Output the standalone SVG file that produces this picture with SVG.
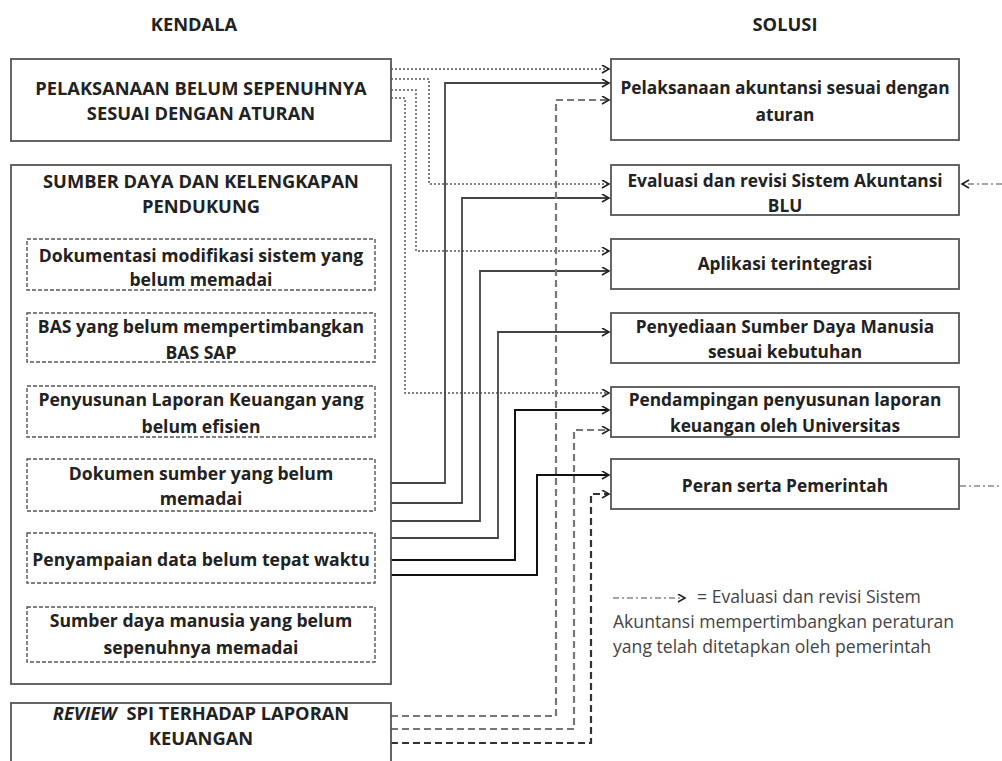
<svg xmlns="http://www.w3.org/2000/svg" width="1002" height="761" viewBox="0 0 1002 761">
<style>
.box{fill:#fff;stroke:#555;stroke-width:1.8}
.ibox{fill:none;stroke:#555;stroke-width:1.4;stroke-dasharray:4,2}
.t{font-family:"Open Sans","Liberation Sans",sans-serif;font-weight:bold;font-size:17.6px;fill:#222;text-anchor:middle}
.c{font-size:18.3px}
.r{font-size:17.3px}
.lg{font-family:"Open Sans","Liberation Sans",sans-serif;font-size:17.6px;fill:#444}
.dot{fill:none;stroke:#555;stroke-width:1.5;stroke-dasharray:2,2}
.sol{fill:none;stroke:#444;stroke-width:1.8}
.solk{fill:none;stroke:#111;stroke-width:2}
.dsh{fill:none;stroke:#777;stroke-width:2.2;stroke-dasharray:7,4}
.dshk{fill:none;stroke:#333;stroke-width:2.2;stroke-dasharray:7,4}
.dd{fill:none;stroke:#888;stroke-width:1.3;stroke-dasharray:6,3,2,3}
</style>
<defs>
<marker id="ar" markerUnits="userSpaceOnUse" markerWidth="10" markerHeight="10" refX="8" refY="4.5" orient="auto">
<path d="M1,0.5 L8,4.5 L1,8.5" fill="none" stroke="#222" stroke-width="1.6"/>
</marker>
</defs>
<text class="t c" x="194" y="31">KENDALA</text>
<text class="t c" x="785" y="31">SOLUSI</text>

<g id="connectors">
<path class="dot" d="M391,69 H609" marker-end="url(#ar)"/>
<path class="dot" d="M391,79 H429 V184 H609" marker-end="url(#ar)"/>
<path class="dot" d="M391,90 H416 V251 H609" marker-end="url(#ar)"/>
<path class="dot" d="M391,98 H405 V393 H609" marker-end="url(#ar)"/>
<path class="sol" d="M391,483 H445 V83 H609" marker-end="url(#ar)"/>
<path class="sol" d="M391,503 H462 V198 H609" marker-end="url(#ar)"/>
<path class="sol" d="M391,521 H480 V271 H609" marker-end="url(#ar)"/>
<path class="sol" d="M391,538 H498 V332 H609" marker-end="url(#ar)"/>
<path class="solk" d="M391,560 H515 V410 H609" marker-end="url(#ar)"/>
<path class="solk" d="M391,575 H537 V475 H609" marker-end="url(#ar)"/>
<path class="dsh" d="M391,716 H556 V100 H609" marker-end="url(#ar)"/>
<path class="dsh" d="M391,729 H574 V430 H609" marker-end="url(#ar)"/>
<path class="dshk" d="M391,743 H591 V494 H609" marker-end="url(#ar)"/>
<path class="dd" d="M1002,184 H962" marker-end="url(#ar)"/>
<path class="dd" d="M960,486 H1002"/>
</g>

<g id="k1">
<rect class="box" x="11" y="59" width="380" height="82"/>
<text class="t c" x="201" y="95">PELAKSANAAN BELUM SEPENUHNYA</text>
<text class="t c" x="201" y="120">SESUAI DENGAN ATURAN</text>
</g>
<g id="k2">
<rect class="box" x="11" y="165" width="380" height="519"/>
<text class="t c" x="201" y="188">SUMBER DAYA DAN KELENGKAPAN</text>
<text class="t c" x="201" y="213">PENDUKUNG</text>
</g>
<g id="k2a">
<rect class="ibox" x="27" y="239" width="348" height="51"/>
<text class="t" x="201" y="262">Dokumentasi modifikasi sistem yang</text>
<text class="t" x="201" y="286">belum memadai</text>
</g>
<g id="k2b">
<rect class="ibox" x="27" y="313" width="348" height="49"/>
<text class="t" x="201" y="333">BAS yang belum mempertimbangkan</text>
<text class="t" x="201" y="359">BAS SAP</text>
</g>
<g id="k2c">
<rect class="ibox" x="27" y="386" width="348" height="51"/>
<text class="t" x="201" y="406">Penyusunan Laporan Keuangan yang</text>
<text class="t" x="201" y="433">belum efisien</text>
</g>
<g id="k2d">
<rect class="ibox" x="27" y="459" width="348" height="52"/>
<text class="t" x="201" y="480">Dokumen sumber yang belum</text>
<text class="t" x="201" y="505">memadai</text>
</g>
<g id="k2e">
<rect class="ibox" x="27" y="533" width="348" height="50"/>
<text class="t" x="201" y="566">Penyampaian data belum tepat waktu</text>
</g>
<g id="k2f">
<rect class="ibox" x="27" y="607" width="348" height="55"/>
<text class="t" x="201" y="627">Sumber daya manusia yang belum</text>
<text class="t" x="201" y="654">sepenuhnya memadai</text>
</g>
<g id="k3">
<rect class="box" x="11" y="703" width="380" height="70"/>
<text class="t c" x="201" y="720"><tspan font-style="italic">REVIEW</tspan><tspan dx="5"> SPI TERHADAP LAPORAN</tspan></text>
<text class="t c" x="201" y="745">KEUANGAN</text>
</g>

<g id="s1">
<rect class="box" x="611" y="59" width="348" height="81"/>
<text class="t r" x="785" y="94">Pelaksanaan akuntansi sesuai dengan</text>
<text class="t r" x="785" y="121">aturan</text>
</g>
<g id="s2">
<rect class="box" x="611" y="165" width="348" height="50"/>
<text class="t r" x="785" y="187">Evaluasi dan revisi Sistem Akuntansi</text>
<text class="t r" x="785" y="212">BLU</text>
</g>
<g id="s3">
<rect class="box" x="611" y="239" width="348" height="50"/>
<text class="t r" x="785" y="270">Aplikasi terintegrasi</text>
</g>
<g id="s4">
<rect class="box" x="611" y="313" width="348" height="50"/>
<text class="t r" x="785" y="333">Penyediaan Sumber Daya Manusia</text>
<text class="t r" x="785" y="358">sesuai kebutuhan</text>
</g>
<g id="s5">
<rect class="box" x="611" y="387" width="348" height="50"/>
<text class="t r" x="785" y="406">Pendampingan penyusunan laporan</text>
<text class="t r" x="785" y="432">keuangan oleh Universitas</text>
</g>
<g id="s6">
<rect class="box" x="611" y="459" width="348" height="50"/>
<text class="t r" x="785" y="492">Peran serta Pemerintah</text>
</g>

<g id="legend">
<path class="dd" d="M613,598 H685" marker-end="url(#ar)"/>
<text class="lg" x="697" y="603">= Evaluasi dan revisi Sistem</text>
<text class="lg" x="613" y="628">Akuntansi mempertimbangkan peraturan</text>
<text class="lg" x="613" y="653">yang telah ditetapkan oleh pemerintah</text>
</g>
</svg>
